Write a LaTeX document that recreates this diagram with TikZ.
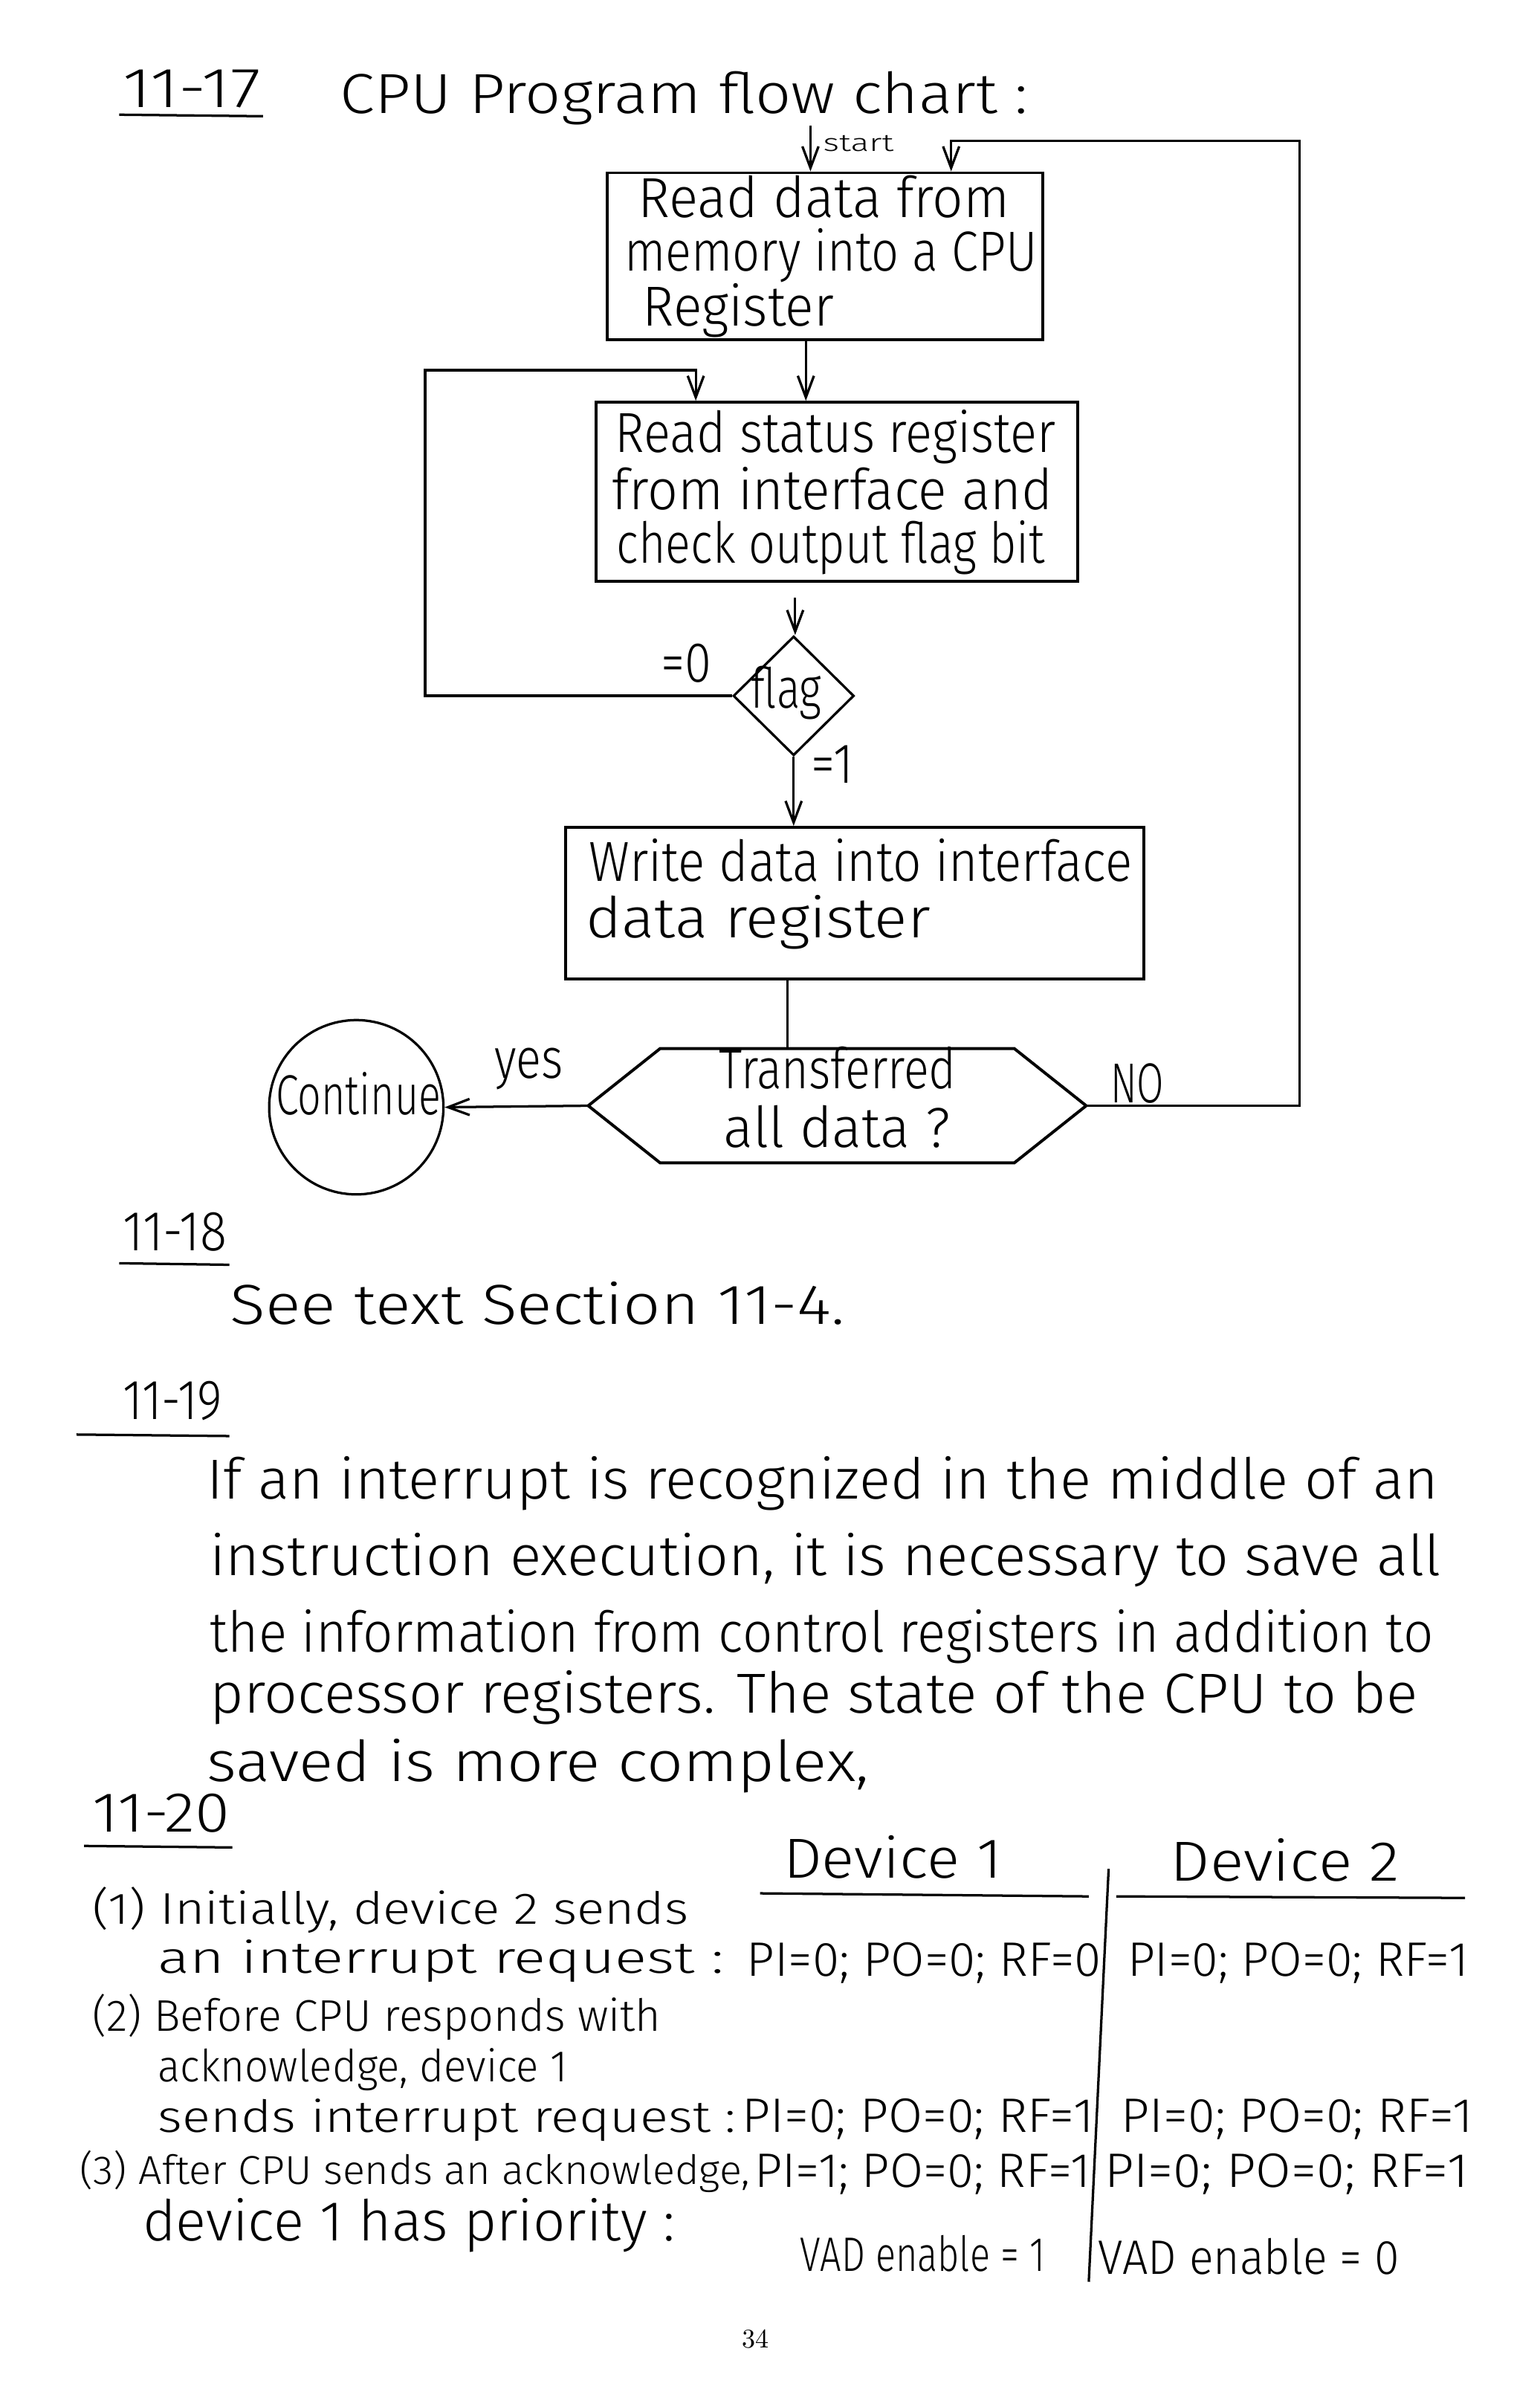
\documentclass[tikz,border=0pt]{standalone}
\usepackage{fontspec}
\usepackage{graphicx}
\usetikzlibrary{arrows.meta,shapes.geometric}
\newfontfamily\hand{Fira Sans Light}
\newdimen\upx \upx=0.02cm
% one line of handwriting: [style]{name}{x,y}{width in px}{text}
\newcommand{\hwt}[5][txt]{\node[#1] (#2) at (#3) {\resizebox{#4\upx}{\height}{#5}};}
\tikzset{
  txt/.style={anchor=base west, inner sep=0pt, font=\hand\fontsize{21}{25}\selectfont},
  tmid/.style={txt, font=\hand\fontsize{18}{22}\selectfont},
  tcol/.style={txt, font=\hand\fontsize{16.5}{20}\selectfont},
  tsml/.style={txt, font=\hand\fontsize{15}{18}\selectfont},
  ttiny/.style={txt, font=\hand\fontsize{9}{11}\selectfont},
  line/.style={draw, line width=0.9pt},
  arr/.style={line, -{Straight Barb[length=8pt,width=6pt]}},
  box/.style={draw, line width=1.1pt, rectangle, inner sep=0pt},
}
\begin{document}
\begin{tikzpicture}[x=0.02cm, y=-0.02cm]
\useasboundingbox (0,0) rectangle (1007,1568);
\fill[white] (0,0) rectangle (1007,1568);

% ---- 11-17 heading
\hwt{h17}{80,70}{90}{11-17}
\draw[line] (78,75) -- (172,76);
\hwt{title}{222,74}{450}{CPU Program flow chart :}
\hwt[ttiny]{start}{538,99}{46}{start}

% ---- flow chart boxes
\node[box, minimum width=5.7cm, minimum height=2.18cm] (b1) at (539.5,167.5) {};
\hwt{b1a}{417,142}{243}{Read data from}
\hwt{b1b}{408,177}{270}{memory into a CPU}
\hwt{b1c}{420,213}{125}{Register}

\node[box, minimum width=6.3cm, minimum height=2.34cm] (b2) at (547.5,321.5) {};
\hwt{b2a}{402,296}{288}{Read status register}
\hwt{b2b}{400,333}{288}{from interface and}
\hwt{b2c}{403,368}{280}{check output flag bit}

\node[diamond, draw, line width=0.9pt, aspect=1, inner sep=0pt,
      minimum width=1.58cm, minimum height=1.56cm] (dm) at (519,455) {};
\hwt{flag}{491,463}{46}{flag}
\hwt{eq0}{432,446}{33}{=0}
\hwt{eq1}{530,512}{28}{=1}

\node[box, minimum width=7.56cm, minimum height=1.98cm] (b3) at (559,590.5) {};
\hwt{b3a}{385,576}{355}{Write data into interface}
\hwt{b3b}{383,613}{225}{data register}

% hexagonal decision
\node[inner sep=0pt, minimum width=6.5cm, minimum height=1.48cm] (hx) at (547.5,723) {};
\draw[line width=1.1pt] (hx.west) -- ([xshift=0.94cm]hx.north west)
  -- ([xshift=-0.94cm]hx.north east) -- (hx.east)
  -- ([xshift=-0.94cm]hx.south east) -- ([xshift=0.94cm]hx.south west) -- cycle;
\hwt{hxa}{470,712}{155}{Transferred}
\hwt{hxb}{473,750}{148}{all data ?}

\node[circle, draw, line width=0.9pt, minimum size=2.28cm, inner sep=0pt] (cont) at (233,724) {};
\hwt{conta}{180,729}{108}{Continue}
\hwt{yes}{323,705}{45}{yes}
\hwt{no}{726,721}{35}{NO}

% ---- connectors
\coordinate (stt) at (530,82);
\draw[arr] (stt) -- (stt |- b1.north);

\coordinate (c12) at ([xshift=-0.25cm]b1.south);
\draw[arr] (c12) -- (c12 |- b2.north);

\coordinate (lpT) at (278,242);
\coordinate (lpA) at (455,242);
\draw[arr] (dm.west) -- (dm.west -| lpT) -- (lpT) -- (lpA) -- (lpA |- b2.north);

\coordinate (c2d) at ([xshift=-0.55cm]b2.south);
\draw[arr] ([yshift=-0.2cm]c2d) -- (c2d |- dm.north);

\draw[arr] (dm.south) -- (dm.south |- b3.north);

\coordinate (c3h) at ([xshift=-0.88cm]b3.south);
\draw[line] (c3h) -- (c3h |- hx.north);

\draw[arr] (hx.west) -- (cont.east);

\coordinate (fbR) at (850,92);
\coordinate (fbL) at (622,92);
\draw[arr] (hx.east) -- (hx.east -| fbR) -- (fbR) -- (fbL) -- (fbL |- b1.north);

% ---- 11-18
\hwt{h18}{80,818}{68}{11-18}
\draw[line] (78,826) -- (150,827);
\hwt{see}{150,866}{402}{See text Section 11-4.}

% ---- 11-19
\hwt{h19}{80,928}{65}{11-19}
\draw[line] (50,938) -- (150,939);
\hwt{p1}{135,980}{805}{If an interrupt is recognized in the middle of an}
\hwt{p2}{137,1030}{805}{instruction execution, it is necessary to save all}
\hwt{p3}{137,1080}{800}{the information from control registers in addition to}
\hwt{p4}{137,1120}{790}{processor registers. The state of the CPU to be}
\hwt{p5}{135,1165}{433}{saved is more complex,}

% ---- 11-20
\hwt{h20}{60,1198}{90}{11-20}
\draw[line] (55,1207) -- (152,1208);
\hwt{d1}{512,1228}{143}{Device 1}
\draw[line] (497,1238) -- (712,1240);
\hwt{d2}{765,1230}{150}{Device 2}
\draw[line] (730,1240) -- (958,1241);
\coordinate (sepT) at (725,1222);
\coordinate (sepB) at (712,1492);
\draw[line] (sepT) -- (sepB);

\hwt[tcol]{r1a}{60,1258}{390}{(1) Initially, device 2 sends}
\hwt[tcol]{r1b}{103,1290}{370}{an interrupt request :}
\hwt[tmid]{r1c}{488,1292}{232}{PI=0; PO=0; RF=0}
\hwt[tmid]{r1d}{737,1292}{223}{PI=0; PO=0; RF=1}

\hwt[tcol]{r2a}{60,1328}{372}{(2) Before CPU responds with}
\hwt[tcol]{r2b}{103,1361}{268}{acknowledge, device 1}
\hwt[tcol]{r2c}{103,1394}{378}{sends interrupt request :}
\hwt[tmid]{r2d}{485,1394}{230}{PI=0; PO=0; RF=1}
\hwt[tmid]{r2e}{733,1394}{230}{PI=0; PO=0; RF=1}

\hwt[tsml]{r3a}{52,1428}{438}{(3) After CPU sends an acknowledge,}
\hwt[tmid]{r3b}{493,1430}{220}{PI=1; PO=0; RF=1}
\hwt[tmid]{r3c}{722,1430}{238}{PI=0; PO=0; RF=1}
\hwt{r3d}{93,1465}{348}{device 1 has priority :}
\hwt[tmid]{r3e}{523,1485}{160}{VAD enable = 1}
\hwt[tmid]{r3f}{718,1487}{197}{VAD enable = 0}

% ---- page number
\node[anchor=base, inner sep=0pt, font=\fontsize{10}{12}\selectfont] (pg) at (494,1535) {34};
\end{tikzpicture}
\end{document}
